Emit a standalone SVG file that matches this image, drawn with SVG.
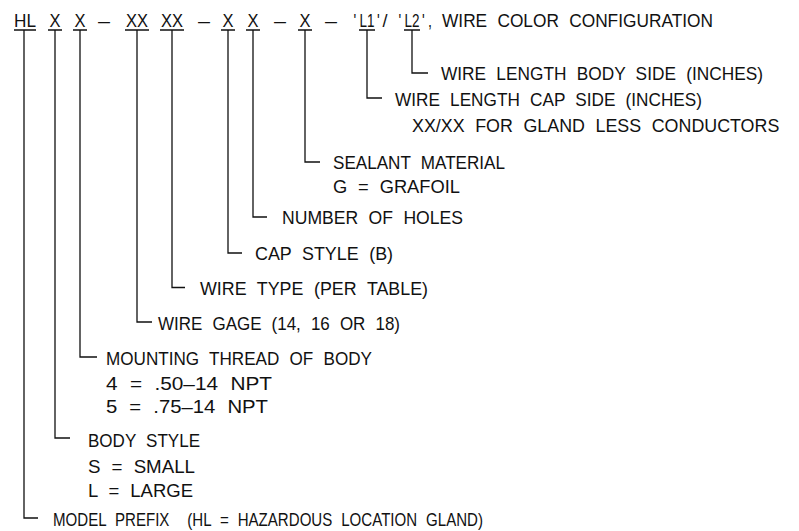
<svg xmlns="http://www.w3.org/2000/svg" width="799" height="531" viewBox="0 0 799 531">
<style>
text{font-family:"Liberation Sans",Arial,sans-serif;font-size:19px;fill:#111;white-space:pre;word-spacing:6px}
.ln{fill:none;stroke:#111;stroke-width:1.3}
</style>
<rect width="799" height="531" fill="#fff"/>
<g id="code">
  <text x="14" y="27" textLength="22" lengthAdjust="spacingAndGlyphs">HL</text>
  <text x="49.5" y="27" textLength="11" lengthAdjust="spacingAndGlyphs">X</text>
  <text x="74.5" y="27" textLength="11" lengthAdjust="spacingAndGlyphs">X</text>
  <text x="98" y="27" textLength="12" lengthAdjust="spacingAndGlyphs">–</text>
  <text x="126" y="27" textLength="22" lengthAdjust="spacingAndGlyphs">XX</text>
  <text x="161" y="27" textLength="22" lengthAdjust="spacingAndGlyphs">XX</text>
  <text x="198" y="27" textLength="12" lengthAdjust="spacingAndGlyphs">–</text>
  <text x="222.5" y="27" textLength="11" lengthAdjust="spacingAndGlyphs">X</text>
  <text x="247.5" y="27" textLength="11" lengthAdjust="spacingAndGlyphs">X</text>
  <text x="274" y="27" textLength="12" lengthAdjust="spacingAndGlyphs">–</text>
  <text x="299.5" y="27" textLength="11" lengthAdjust="spacingAndGlyphs">X</text>
  <text x="325" y="27" textLength="12" lengthAdjust="spacingAndGlyphs">–</text>
  <text transform="translate(353.5,27) scale(0.75,1)">'</text>
  <text transform="translate(359.5,27) scale(0.71,1)">L1</text>
  <text transform="translate(377,27) scale(0.75,1)">'</text>
  <text transform="translate(382.5,27) scale(0.95,1)">/</text>
  <text transform="translate(398.5,27) scale(0.75,1)">'</text>
  <text transform="translate(404.5,27) scale(0.71,1)">L2</text>
  <text transform="translate(422,27) scale(0.75,1)">'</text>
  <text transform="translate(428,27) scale(0.75,1)">,</text>
  <text x="442" y="27" textLength="271" lengthAdjust="spacingAndGlyphs">WIRE COLOR CONFIGURATION</text>
  <path class="ln" d="M14 30H36M48 30H62M73 30H87M125 30H149M160 30H184M221 30H235M246 30H260M298 30H312M359 30H375M404 30H420"/>
</g>
<g id="connectors">
  <path class="ln" d="M412 30V73H428"/>
  <path class="ln" d="M367 30V98H382"/>
  <path class="ln" d="M305 30V162H320"/>
  <path class="ln" d="M253 30V217H267"/>
  <path class="ln" d="M228 30V253H242"/>
  <path class="ln" d="M172 30V287.5H185"/>
  <path class="ln" d="M137 30V322H152"/>
  <path class="ln" d="M80 30V357H97"/>
  <path class="ln" d="M55 30V438H70"/>
  <path class="ln" d="M24 30V518H38"/>
</g>
<g id="wire-length-body">
  <text x="441" y="80" textLength="322" lengthAdjust="spacingAndGlyphs">WIRE LENGTH BODY SIDE (INCHES)</text>
</g>
<g id="wire-length-cap">
  <text x="395" y="105.5" textLength="307" lengthAdjust="spacingAndGlyphs">WIRE LENGTH CAP SIDE (INCHES)</text>
  <text transform="translate(412,132) scale(0.94,1)">XX/XX FOR GLAND LESS CONDUCTORS</text>
</g>
<g id="sealant">
  <text x="333" y="169" textLength="172" lengthAdjust="spacingAndGlyphs">SEALANT MATERIAL</text>
  <text x="333" y="193" textLength="127" lengthAdjust="spacingAndGlyphs">G = GRAFOIL</text>
</g>
<g id="holes">
  <text x="282" y="224" textLength="181" lengthAdjust="spacingAndGlyphs">NUMBER OF HOLES</text>
</g>
<g id="cap-style">
  <text x="255" y="260" textLength="138" lengthAdjust="spacingAndGlyphs">CAP STYLE (B)</text>
</g>
<g id="wire-type">
  <text x="200" y="295" textLength="228" lengthAdjust="spacingAndGlyphs">WIRE TYPE (PER TABLE)</text>
</g>
<g id="wire-gage">
  <text x="158" y="330" textLength="242" lengthAdjust="spacingAndGlyphs">WIRE GAGE (14, 16 OR 18)</text>
</g>
<g id="mounting-thread">
  <text x="106" y="365" textLength="266" lengthAdjust="spacingAndGlyphs">MOUNTING THREAD OF BODY</text>
  <text x="106" y="389.5" textLength="166" lengthAdjust="spacingAndGlyphs">4 = .50–14 NPT</text>
  <text x="106" y="413" textLength="162" lengthAdjust="spacingAndGlyphs">5 = .75–14 NPT</text>
</g>
<g id="body-style">
  <text x="88" y="447" textLength="112" lengthAdjust="spacingAndGlyphs">BODY STYLE</text>
  <text x="88" y="473" textLength="107" lengthAdjust="spacingAndGlyphs">S = SMALL</text>
  <text x="88" y="497" textLength="105" lengthAdjust="spacingAndGlyphs">L = LARGE</text>
</g>
<g id="model-prefix">
  <text x="53" y="526" textLength="430" lengthAdjust="spacingAndGlyphs">MODEL PREFIX  (HL = HAZARDOUS LOCATION GLAND)</text>
</g>
</svg>
